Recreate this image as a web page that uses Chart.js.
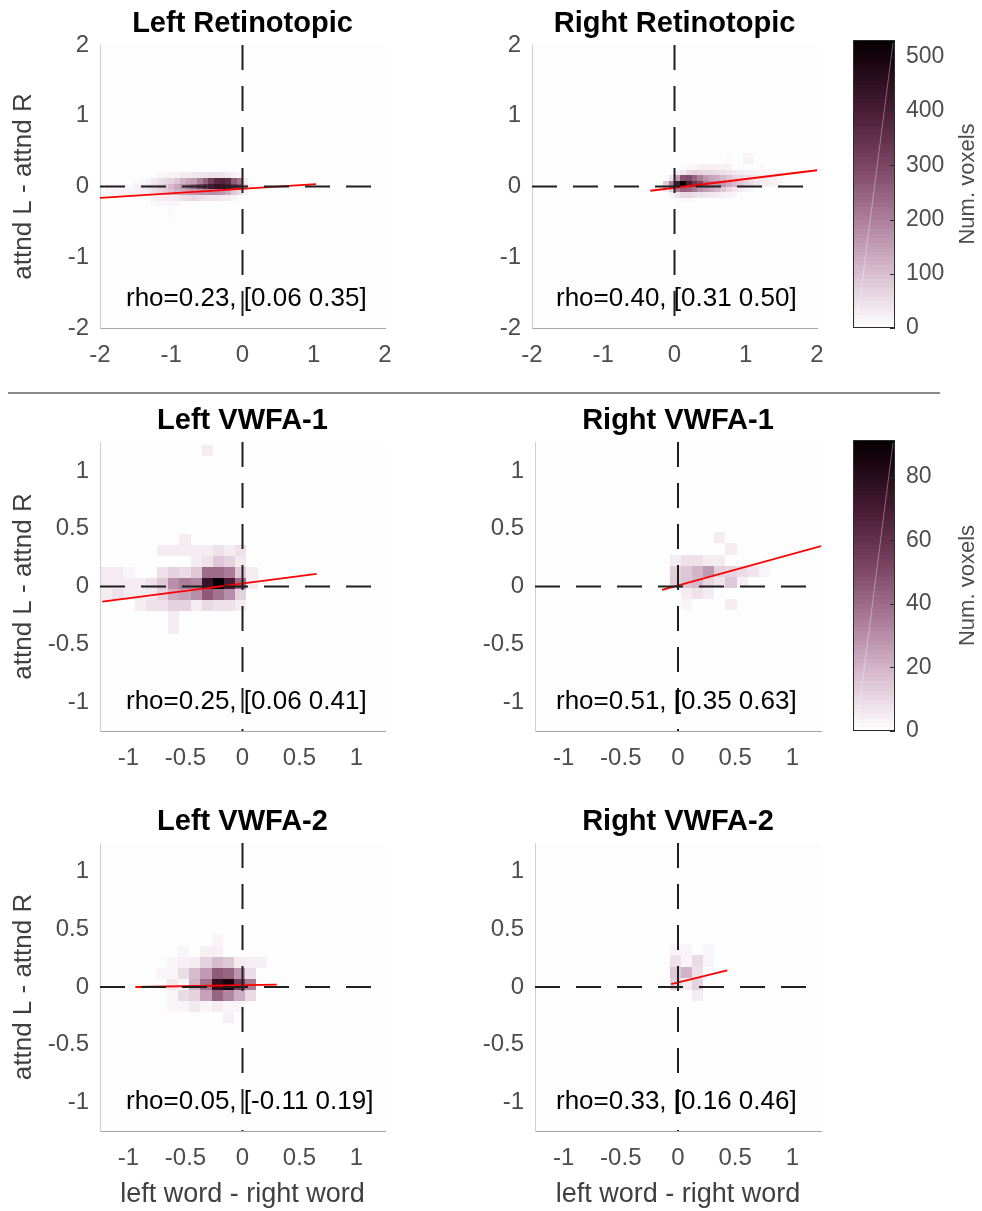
<!DOCTYPE html>
<html>
<head>
<meta charset="utf-8">
<title>attnd L - attnd R vs left word - right word</title>
<script src="https://cdn.jsdelivr.net/npm/chart.js@4.4.1/dist/chart.umd.min.js"></script>
<style>
  html, body { margin: 0; padding: 0; background: #fff; }
  body { width: 982px; height: 1211px; position: relative; overflow: hidden; }
  canvas { position: absolute; }
  .sep { position: absolute; left: 8px; top: 392px; width: 932px; height: 2px; background: #8a8a8a; }
</style>
</head>
<body>
<canvas id="lRet" width="405" height="380" style="left:0;top:0"></canvas>
<canvas id="rRet" width="405" height="380" style="left:432px;top:0"></canvas>
<canvas id="cbarRet" width="142" height="380" style="left:840px;top:0"></canvas>
<div class="sep"></div>
<canvas id="lV1" width="405" height="388" style="left:0;top:395px"></canvas>
<canvas id="rV1" width="406" height="388" style="left:435px;top:395px"></canvas>
<canvas id="cbarV1" width="142" height="388" style="left:840px;top:395px"></canvas>
<canvas id="lV2" width="405" height="416" style="left:0;top:795px"></canvas>
<canvas id="rV2" width="406" height="416" style="left:435px;top:795px"></canvas>
<script>
// axis ranges and tick labels
const retRange = [-2, 2];
const retTicks = [-2, -1, 0, 1, 2];
const vwfaRange = [-1.25, 1.25];
const vwfaTicks = [-1, -0.5, 0, 0.5, 1];

const panelTitles = ["Left Retinotopic", "Right Retinotopic", "Left VWFA-1", "Right VWFA-1", "Left VWFA-2", "Right VWFA-2"];
const rhoLabels = ["rho=0.23, [0.06 0.35]", "rho=0.40, [0.31 0.50]", "rho=0.25, [0.06 0.41]",
                   "rho=0.51, [0.35 0.63]", "rho=0.05, [-0.11 0.19]", "rho=0.33, [0.16 0.46]"];

// colorbar ranges
const cbarRetMax = 531;
const cbarRetTicks = [0, 100, 200, 300, 400, 500];
const cbarVwfaMax = 91.5;
const cbarVwfaTicks = [0, 20, 40, 60, 80];

// 2D histograms: binX = [first left edge, width], binY = [top edge, height], counts rows top to bottom
const lRetBinX = [-2.0, 0.08];
const lRetBinY = [0.2, 0.08];
const lRetCounts = [
  [0,0,0,0,0,0,0,0,0,0,15,15,20,20,30,30,35,40,40,45,45,40,35,20,15,0,0],
  [0,0,0,0,0,0,10,15,20,35,50,60,70,90,120,140,150,200,250,320,370,380,360,260,220,30,0],
  [0,15,15,10,15,10,25,35,40,55,70,85,110,140,170,200,240,300,360,410,440,430,400,340,280,60,25],
  [0,15,15,20,20,20,25,30,35,50,65,80,100,120,130,150,160,170,170,180,170,160,130,80,60,20,0],
  [0,0,0,0,0,0,0,0,0,20,30,30,30,35,45,55,60,50,45,40,40,35,30,20,0,0,0],
  [0,0,0,0,0,0,0,0,0,10,15,15,15,15,10,0,0,0,0,0,0,0,0,0,0,0,0],
  [0,0,0,0,0,0,0,0,0,0,0,0,10,0,0,0,0,0,0,0,0,0,0,0,0,0,0],
  [0,0,0,0,0,0,0,0,0,0,0,0,10,0,0,0,0,0,0,0,0,0,0,0,0,0,0]
];
const lRetFitX = [-2, 1.03];
const lRetFitY = [-0.16, 0.035];

const rRetBinX = [-0.16, 0.08];
const rRetBinY = [0.48, 0.08];
const rRetCounts = [
  [0,0,0,0,0,0,0,0,0,0,0,10,0,0,15,15,0,0,0,0,0,0],
  [0,0,0,0,0,0,0,0,0,0,0,10,0,0,20,20,0,0,0,0,0,0],
  [0,0,0,10,15,15,25,25,25,25,25,25,0,0,0,0,0,10,0,0,0,0],
  [0,0,20,40,60,70,70,60,60,55,50,40,35,30,25,20,15,15,15,15,15,0],
  [0,40,150,280,290,250,200,160,140,130,110,90,70,60,50,45,35,30,25,20,15,10],
  [80,200,420,531,400,330,300,210,180,170,160,130,110,90,70,50,40,30,25,20,15,0],
  [30,80,200,250,240,210,170,150,130,110,90,60,40,30,20,15,0,0,0,0,0,0],
  [0,20,40,60,60,50,45,40,35,30,25,20,15,0,0,0,0,0,0,0,0,0],
  [0,0,10,10,10,10,0,0,0,0,0,0,0,0,0,0,0,0,0,0,0,0]
];
const rRetFitX = [-0.34, 2];
const rRetFitY = [-0.06, 0.23];

const lV1BinX = [-1.24, 0.098];
const lV1BinY = [1.224, 0.096];
const lV1Counts = [
  [0,0,0,0,0,0,0,0,0,5,0,0,0,0],
  [0,0,0,0,0,0,0,0,0,0,0,0,0,0],
  [0,0,0,0,0,0,0,0,0,0,0,0,0,0],
  [0,0,0,0,0,0,0,0,0,0,0,0,0,0],
  [0,0,0,0,0,0,0,0,0,0,0,0,0,0],
  [0,0,0,0,0,0,0,0,0,0,0,0,0,0],
  [0,0,0,0,0,0,0,0,0,0,0,0,0,0],
  [0,0,0,0,0,0,0,0,0,0,0,0,0,0],
  [0,0,0,0,0,0,0,5,0,0,0,0,0,0],
  [0,0,0,0,0,5,5,5,5,5,8,5,8,0],
  [0,0,0,0,0,0,0,0,5,8,15,12,6,0],
  [5,5,3,0,0,8,12,10,15,40,40,35,15,5],
  [5,5,5,5,8,15,30,35,33,75,91,70,40,5],
  [5,8,5,5,6,12,22,25,30,45,38,30,12,0],
  [0,0,0,5,8,8,12,12,5,10,8,8,5,0],
  [0,0,0,0,0,0,5,0,0,0,0,0,0,0],
  [0,0,0,0,0,0,5,0,0,0,0,0,0,0]
];
const lV1FitX = [-1.23, 0.65];
const lV1FitY = [-0.13, 0.11];

const rV1BinX = [-0.07, 0.097];
const rV1BinY = [0.468, 0.096];
const rV1Counts = [
  [0,0,0,0,5,0,0,0,0,0],
  [0,0,0,0,0,5,0,0,0,0],
  [5,8,8,5,5,0,0,0,0,0],
  [13,15,20,27,12,11,9,7,3,0],
  [14,16,19,11,7,15,4,0,0,0],
  [0,5,8,5,0,0,0,0,0,0],
  [0,3,0,0,0,5,0,0,0,0]
];
const rV1FitX = [-0.14, 1.25];
const rV1FitY = [-0.03, 0.35];

const lV2BinX = [-0.761, 0.098];
const lV2BinY = [0.456, 0.096];
const lV2Counts = [
  [0,0,0,0,0,3,0,0,0,0],
  [0,0,3,0,4,4,0,0,0,0],
  [0,3,4,5,12,18,15,5,4,4],
  [3,3,9,18,27,45,42,28,9,0],
  [0,6,3,20,38,78,85,55,35,0],
  [0,3,10,12,25,42,33,22,10,0],
  [0,3,3,6,3,5,3,3,0,0],
  [0,0,0,0,0,0,4,0,0,0]
];
const lV2FitX = [-0.94, 0.3];
const lV2FitY = [0.0, 0.02];

const rV2BinX = [-0.07, 0.097];
const rV2BinY = [0.375, 0.1];
const rV2Counts = [
  [3,3,0,3],
  [8,3,10,3],
  [15,20,8,0],
  [12,5,12,0],
  [0,0,5,0]
];
const rV2FitX = [-0.06, 0.43];
const rV2FitY = [0.026, 0.145];

const FONT = "'Liberation Sans', Arial, Helvetica, sans-serif";
const TICK_COLOR = '#4d4d4d';

// white -> plum -> black colormap
const cmapStops = [
  [0, [255, 255, 255]], [0.19, [217, 190, 208]], [0.38, [172, 125, 153]],
  [0.57, [122, 68, 97]], [0.76, [72, 28, 52]], [0.94, [22, 4, 13]], [1, [5, 0, 3]]
];
function cmap(t) {
  t = Math.max(0, Math.min(1, t));
  for (let i = 1; i < cmapStops.length; i++) {
    const [t1, c1] = cmapStops[i];
    if (t <= t1) {
      const [t0, c0] = cmapStops[i - 1];
      const f = (t - t0) / (t1 - t0);
      const c = c0.map((v, k) => Math.round(v + f * (c1[k] - v)));
      return `rgb(${c[0]},${c[1]},${c[2]})`;
    }
  }
  return 'rgb(5,0,3)';
}

const areaBg = {
  id: 'areaBg',
  beforeDraw(chart) {
    const { ctx, chartArea: a } = chart;
    ctx.save();
    ctx.fillStyle = '#fdfdfd';
    ctx.fillRect(a.left, a.top, a.width, a.height);
    ctx.restore();
  }
};

function heatmap(binX, binY, counts, max) {
  return {
    id: 'heatmap',
    beforeDatasetsDraw(chart) {
      const { ctx, chartArea: a, scales: { x, y } } = chart;
      ctx.save();
      ctx.beginPath();
      ctx.rect(a.left, a.top, a.width, a.height);
      ctx.clip();
      counts.forEach((row, r) => {
        row.forEach((c, i) => {
          if (!c) return;
          const x0 = Math.round(x.getPixelForValue(binX[0] + i * binX[1]));
          const x1 = Math.round(x.getPixelForValue(binX[0] + (i + 1) * binX[1]));
          const y0 = Math.round(y.getPixelForValue(binY[0] - r * binY[1]));
          const y1 = Math.round(y.getPixelForValue(binY[0] - (r + 1) * binY[1]));
          ctx.fillStyle = cmap(c / max);
          ctx.fillRect(x0, y0, x1 - x0, y1 - y0);
        });
      });
      ctx.restore();
    }
  };
}

function rhoText(text, dx) {
  return {
    id: 'rhoText',
    afterDatasetsDraw(chart) {
      const { ctx, chartArea: a } = chart;
      ctx.save();
      ctx.font = `26px ${FONT}`;
      ctx.fillStyle = '#000';
      ctx.textAlign = 'left';
      ctx.textBaseline = 'middle';
      ctx.fillText(text, a.left + dx, a.bottom - 29);
      ctx.restore();
    }
  };
}

function makePanel(id, p) {
  const [lo, hi] = p.range;
  const line = (data, color, width, dash) => ({
    data, showLine: true, borderColor: color, borderWidth: width,
    borderDash: dash, pointRadius: 0, fill: false
  });
  new Chart(document.getElementById(id), {
    type: 'scatter',
    data: {
      datasets: [
        line([{ x: 0, y: hi }, { x: 0, y: lo }], '#1f1f1f', 2, [25, 16]),
        line([{ x: lo, y: 0 }, { x: hi, y: 0 }], '#1f1f1f', 2, [25, 16]),
        line(p.fitX.map((x, i) => ({ x, y: p.fitY[i] })), '#ff0000', 1.8, [])
      ]
    },
    options: {
      responsive: false,
      animation: false,
      events: [],
      layout: { padding: { right: 20 } },
      plugins: {
        legend: { display: false },
        tooltip: { enabled: false },
        title: {
          display: true, text: p.title, color: '#000', fullSize: false,
          font: { family: FONT, size: 29, weight: 'bold' },
          padding: { top: p.titleTop - 0.6, bottom: 3.6 }
        }
      },
      scales: {
        x: {
          type: 'linear', min: lo, max: hi, bounds: 'data',
          afterBuildTicks: s => { s.ticks = p.ticks.map(v => ({ value: v })); },
          afterFit: s => { s.height = p.xAxisH; },
          grid: { display: false, drawTicks: false },
          border: { color: '#a8a8a8', width: 1 },
          ticks: { padding: 12.5, color: TICK_COLOR, font: { family: FONT, size: 24 }, callback: v => String(v) },
          title: {
            display: p.xTitle, text: 'left word - right word', color: '#404040',
            font: { family: FONT, size: 27 }, padding: { top: 0, bottom: 0 }
          }
        },
        y: {
          type: 'linear', min: lo, max: hi, bounds: 'data',
          afterBuildTicks: s => { s.ticks = p.ticks.map(v => ({ value: v })); },
          afterFit: s => { s.width = 100; },
          grid: { display: false, drawTicks: false },
          border: { color: '#cfcfcf', width: 1 },
          ticks: { padding: 11, color: TICK_COLOR, font: { family: FONT, size: 24 }, callback: v => String(v) },
          title: {
            display: p.yTitle, text: 'attnd L - attnd R', color: '#404040',
            font: { family: FONT, size: 26 }, padding: { top: 8.4, bottom: 0 }
          }
        }
      }
    },
    plugins: [areaBg, heatmap(p.binX, p.binY, p.counts, p.max), rhoText(p.rho, p.rhoDx)]
  });
}

const colorbarFill = {
  id: 'colorbarFill',
  beforeDraw(chart) {
    const { ctx, chartArea: a, scales: { y } } = chart;
    const levels = 64;
    ctx.save();
    for (let k = 0; k < levels; k++) {
      const y0 = y.getPixelForValue(y.max * k / levels);
      const y1 = y.getPixelForValue(y.max * (k + 1) / levels);
      ctx.fillStyle = cmap((k + 0.5) / levels);
      ctx.fillRect(a.left, Math.floor(y1), a.width, Math.ceil(y0) - Math.floor(y1));
    }
    // faint diagonal rendering streak
    ctx.strokeStyle = 'rgba(255,255,255,0.35)';
    ctx.lineWidth = 1;
    ctx.beginPath();
    ctx.moveTo(a.left + 4, a.bottom - 6);
    ctx.lineTo(a.right - 2, a.top + 3);
    ctx.stroke();
    ctx.strokeStyle = '#2b2b2b';
    ctx.strokeRect(a.left + 0.5, a.top + 0.5, a.width - 1, a.height - 1);
    ctx.beginPath();
    y.ticks.forEach(t => {
      const py = Math.round(y.getPixelForValue(t.value)) + 0.5;
      ctx.moveTo(a.right - 5, py);
      ctx.lineTo(a.right, py);
    });
    ctx.stroke();
    // rotated label reading bottom to top
    ctx.translate(chart.width - 14, (a.top + a.bottom) / 2);
    ctx.rotate(-Math.PI / 2);
    ctx.font = `22px ${FONT}`;
    ctx.fillStyle = '#4d4d4d';
    ctx.textAlign = 'center';
    ctx.textBaseline = 'middle';
    ctx.fillText('Num. voxels', 0, 0);
    ctx.restore();
  }
};

function makeColorbar(id, max, ticks, padTop) {
  new Chart(document.getElementById(id), {
    type: 'scatter',
    data: { datasets: [] },
    options: {
      responsive: false,
      animation: false,
      events: [],
      layout: { padding: { left: 13, top: padTop, bottom: 52 } },
      plugins: { legend: { display: false }, tooltip: { enabled: false } },
      scales: {
        x: { display: false, min: 0, max: 1 },
        y: {
          position: 'right', min: 0, max, bounds: 'data',
          afterBuildTicks: s => { s.ticks = ticks.map(v => ({ value: v })); },
          afterFit: s => { s.width = 87; },
          grid: { display: false, drawTicks: false },
          border: { display: false },
          ticks: { padding: 11, color: TICK_COLOR, font: { family: FONT, size: 23 } }
        }
      }
    },
    plugins: [colorbarFill]
  });
}

makePanel('lRet', { title: panelTitles[0], rho: rhoLabels[0], rhoDx: 26, range: retRange, ticks: retTicks,
  binX: lRetBinX, binY: lRetBinY, counts: lRetCounts, max: cbarRetMax, fitX: lRetFitX, fitY: lRetFitY,
  titleTop: 7.2, xAxisH: 52, xTitle: false, yTitle: true });
makePanel('rRet', { title: panelTitles[1], rho: rhoLabels[1], rhoDx: 24, range: retRange, ticks: retTicks,
  binX: rRetBinX, binY: rRetBinY, counts: rRetCounts, max: cbarRetMax, fitX: rRetFitX, fitY: rRetFitY,
  titleTop: 7.2, xAxisH: 52, xTitle: false, yTitle: false });
makePanel('lV1', { title: panelTitles[2], rho: rhoLabels[2], rhoDx: 26, range: vwfaRange, ticks: vwfaTicks,
  binX: lV1BinX, binY: lV1BinY, counts: lV1Counts, max: cbarVwfaMax, fitX: lV1FitX, fitY: lV1FitY,
  titleTop: 9.2, xAxisH: 52, xTitle: false, yTitle: true });
makePanel('rV1', { title: panelTitles[3], rho: rhoLabels[3], rhoDx: 21, range: vwfaRange, ticks: vwfaTicks,
  binX: rV1BinX, binY: rV1BinY, counts: rV1Counts, max: cbarVwfaMax, fitX: rV1FitX, fitY: rV1FitY,
  titleTop: 9.2, xAxisH: 52, xTitle: false, yTitle: false });
makePanel('lV2', { title: panelTitles[4], rho: rhoLabels[4], rhoDx: 26, range: vwfaRange, ticks: vwfaTicks,
  binX: lV2BinX, binY: lV2BinY, counts: lV2Counts, max: cbarVwfaMax, fitX: lV2FitX, fitY: lV2FitY,
  titleTop: 10.2, xAxisH: 80, xTitle: true, yTitle: true });
makePanel('rV2', { title: panelTitles[5], rho: rhoLabels[5], rhoDx: 21, range: vwfaRange, ticks: vwfaTicks,
  binX: rV2BinX, binY: rV2BinY, counts: rV2Counts, max: cbarVwfaMax, fitX: rV2FitX, fitY: rV2FitY,
  titleTop: 10.2, xAxisH: 80, xTitle: true, yTitle: false });

makeColorbar('cbarRet', cbarRetMax, cbarRetTicks, 40);
makeColorbar('cbarV1', cbarVwfaMax, cbarVwfaTicks, 45);
</script>
</body>
</html>
